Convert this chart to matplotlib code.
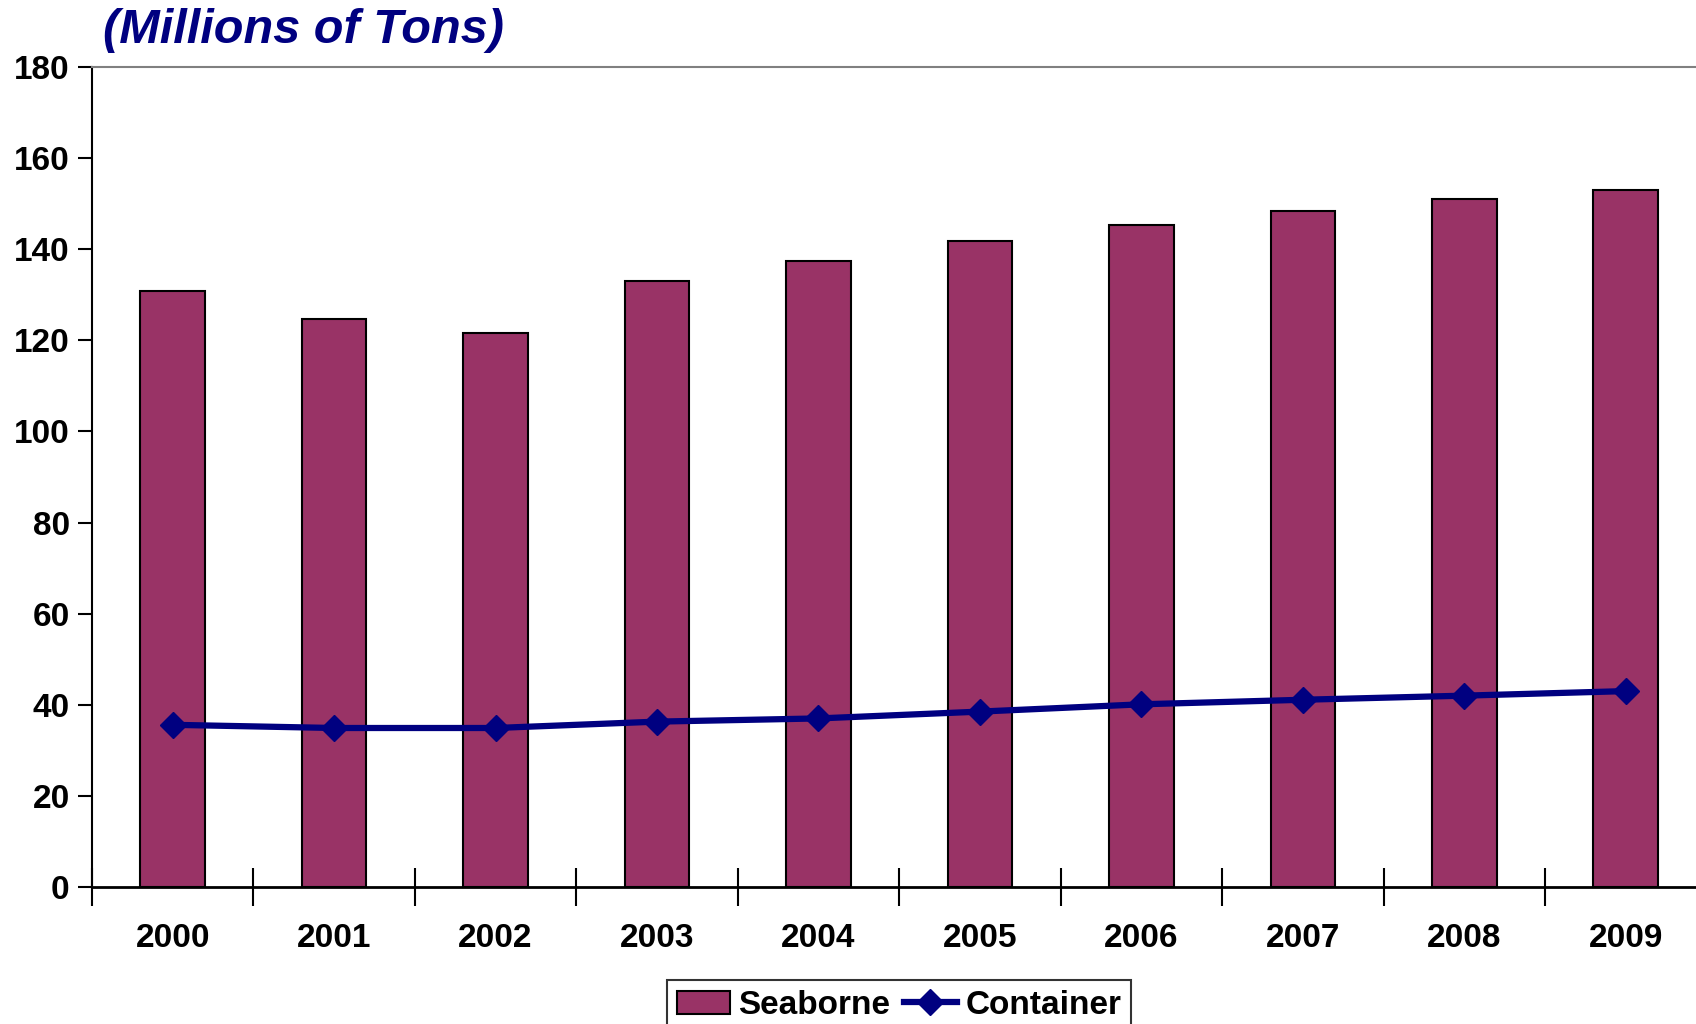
import numpy as np
import matplotlib
matplotlib.use("Agg")
import matplotlib.pyplot as plt
from matplotlib.ticker import FixedLocator

plt.rcParams['font.family'] = ['Liberation Sans', 'DejaVu Sans']

years = ['2000', '2001', '2002', '2003', '2004',
         '2005', '2006', '2007', '2008', '2009']
seaborne = [130.8, 124.7, 121.6, 133.0, 137.5, 141.8, 145.3, 148.4, 151.0, 152.9]
container = [35.6, 34.9, 34.9, 36.3, 37.0, 38.5, 40.1, 41.1, 42.0, 43.0]

bar_color = '#993366'
line_color = '#000080'

fig = plt.figure(figsize=(16.96, 10.24), dpi=100)
ax = fig.add_axes([0.0542, 0.1338, 0.952, 0.8008])

x = np.arange(len(years))
bars = ax.bar(x, seaborne, width=0.4, color=bar_color, edgecolor='black',
              linewidth=1.5, label='Seaborne', zorder=2)
line, = ax.plot(x, container, color=line_color, linewidth=4.5, marker='D',
                markersize=13, label='Container', zorder=3)

ax.set_xlim(-0.5, len(years) - 0.5)
ax.set_ylim(0, 180)
ax.set_yticks(np.arange(0, 181, 20))

# labels at the category centres, tick marks between categories
ax.set_xticks(x)
ax.set_xticklabels(years)
ax.xaxis.set_minor_locator(FixedLocator(np.arange(-0.5, len(years), 1.0)))
ax.tick_params(axis='x', which='major', length=0, pad=26)
ax.tick_params(axis='x', which='minor', direction='inout', length=28, width=1.5)
ax.tick_params(axis='y', which='major', direction='out', length=10, width=1.5, pad=6)

for lbl in ax.get_xticklabels() + ax.get_yticklabels():
    lbl.set_fontsize(24)
    lbl.set_fontweight('bold')

ax.spines['left'].set_linewidth(1.5)
ax.spines['bottom'].set_linewidth(2)
ax.spines['top'].set_color('#808080')
ax.spines['top'].set_linewidth(1.5)
ax.spines['right'].set_visible(False)

fig.text(0.0605, 0.9705, '(Millions of Tons)', fontsize=35, fontweight='bold',
         fontstyle='italic', color=line_color, ha='left', va='center')

leg = fig.legend([bars, line], ['Seaborne', 'Container'],
                 loc='upper center', bbox_to_anchor=(0.53, 0.043), ncol=2,
                 fancybox=False, frameon=True, edgecolor='black',
                 borderaxespad=0,
                 prop={'size': 24, 'weight': 'bold'}, handlelength=1.6,
                 handletextpad=0.25, columnspacing=0.4, borderpad=0.3)
leg.get_frame().set_linewidth(1.5)

fig.savefig('out.png', dpi=100)
